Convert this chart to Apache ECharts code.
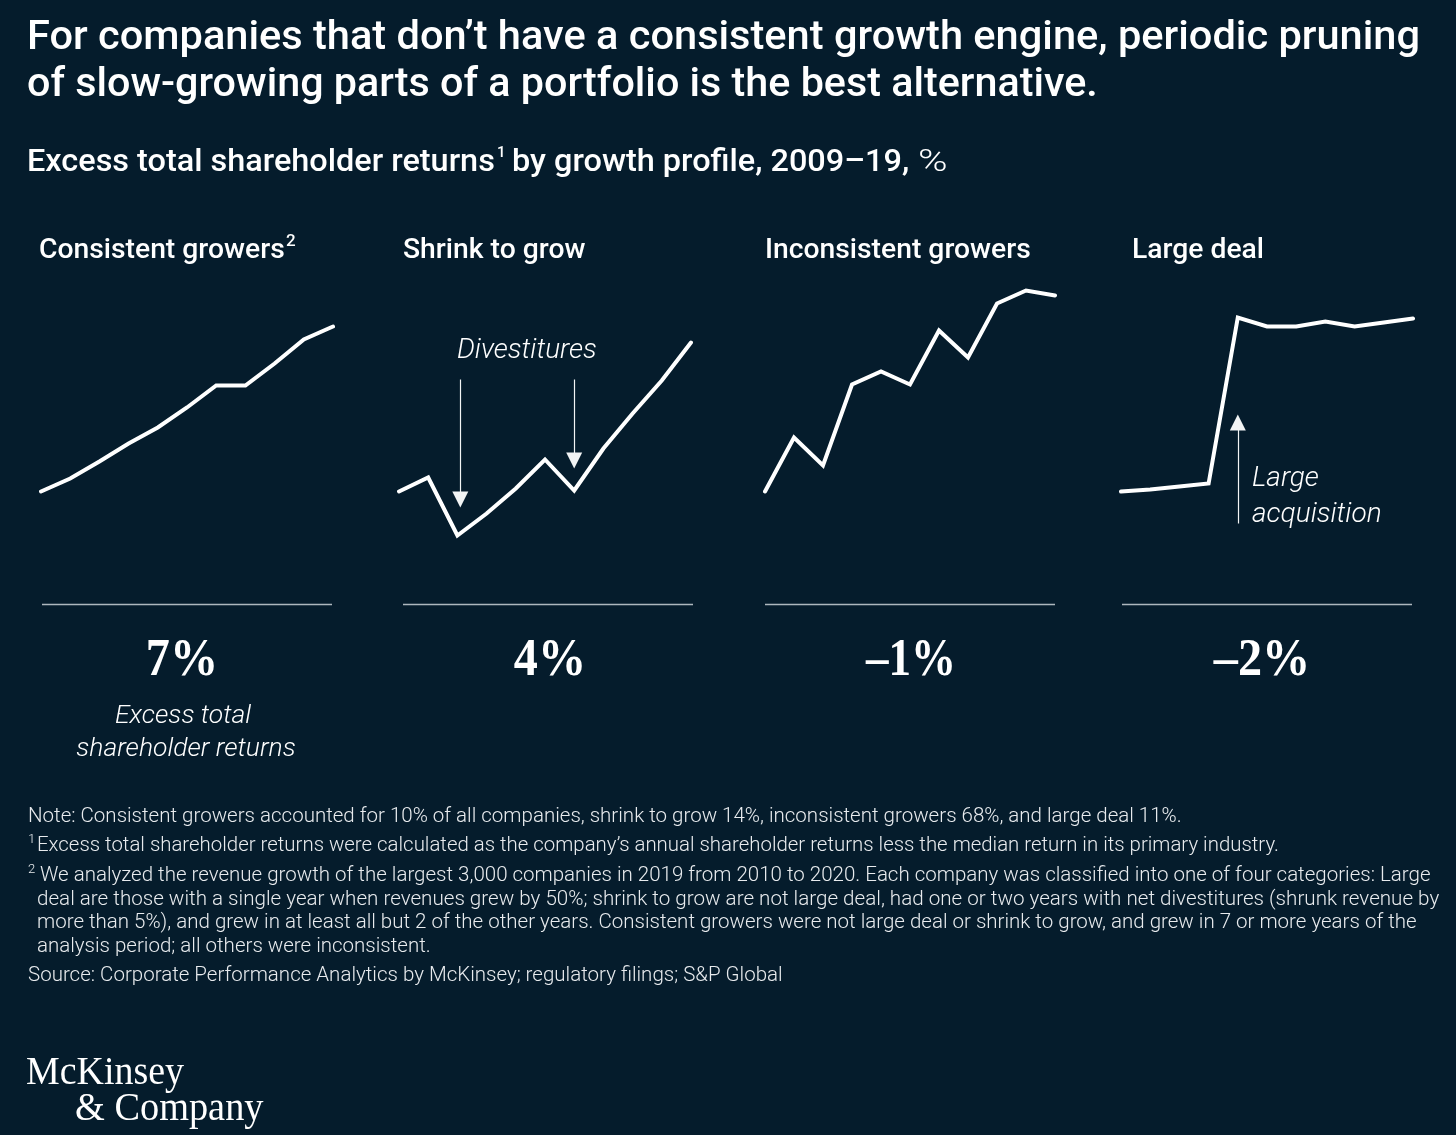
<!DOCTYPE html>
<html>
<head>
<meta charset="utf-8">
<title>Excess total shareholder returns</title>
<script src="https://cdn.jsdelivr.net/npm/echarts@6/dist/echarts.min.js"></script>
<style>
  html, body { margin: 0; padding: 0; background: #051c2c; }
  #chart { width: 1456px; height: 1135px; }
</style>
</head>
<body>
<div id="chart"></div>
<script>
// years on the x axis
var years = [2009, 2010, 2011, 2012, 2013, 2014, 2015, 2016, 2017, 2018, 2019];

// indexed values
var consistent = [100.5, 107, 115.5, 124.5, 132.5, 142.5, 153.5, 153.5, 164.5, 176.5, 183];
var shrink = [100.5, 107.5, 78.5, 89.5, 102, 116.5, 101, 122, 139.5, 156, 175];
var inconsistent = [100.5, 127.5, 113.5, 154, 160.5, 154, 181, 167.5, 194.5, 201, 198.5];
var largeDeal = [100.5, 101.5, 103, 104.5, 187.5, 183, 183, 185.5, 183, 185, 187];

var panelValues = [consistent, shrink, inconsistent, largeDeal];
var panelNames = ['Consistent growers', 'Shrink to grow', 'Inconsistent growers', 'Large deal'];
var panelResults = ['7%', '4%', '\u20131%', '\u20132%'];

var titleLines = [
  'For companies that don\u2019t have a consistent growth engine, periodic pruning',
  'of slow-growing parts of a portfolio is the best alternative.'
];
var noteTexts = [
  'Note: Consistent growers accounted for 10% of all companies, shrink to grow 14%, inconsistent growers 68%, and large deal 11%.',
  'Excess total shareholder returns were calculated as the company\u2019s annual shareholder returns less the median return in its primary industry.',
  'We analyzed the revenue growth of the largest 3,000 companies in 2019 from 2010 to 2020. Each company was classified into one of four categories: Large',
  'deal are those with a single year when revenues grew by 50%; shrink to grow are not large deal, had one or two years with net divestitures (shrunk revenue by',
  'more than 5%), and grew in at least all but 2 of the other years. Consistent growers were not large deal or shrink to grow, and grew in 7 or more years of the',
  'analysis period; all others were inconsistent.',
  'Source: Corporate Performance Analytics by McKinsey; regulatory filings; S&P Global'
];

// layout of the notes
var noteX = [28, 37, 40, 37, 37, 37, 28];
var noteY = [815, 844, 874, 898, 921, 945, 974];
var noteScale = [1, 0.995, 1, 1.005, 1, 1, 1];

// layout of the four small panels
var gridLeft = [41, 399, 765, 1121];
var gridWidth = [292, 292, 290, 292];
var ruleLeft = [42, 403, 765, 1122];
var ruleWidth = 290;
var nameLeft = [39, 403, 765, 1132];
var resultCenter = [182, 550, 911, 1262];

var sansFont = 'Roboto';
var white = '#ffffff';
var soft = '#e8ebee';

function txt(x, y, text, size, extra) {
  var style = {
    text: text,
    x: 0,
    y: 0,
    fill: white,
    font: (extra && extra.fontCss ? extra.fontCss + ' ' : '') + size + 'px ' + ((extra && extra.family) || sansFont),
    textAlign: (extra && extra.align) || 'left',
    textVerticalAlign: 'middle'
  };
  if (extra && extra.fill) style.fill = extra.fill;
  return {
    type: 'text',
    x: x,
    y: y + ((extra && extra.noShift) ? 0 : size * 0.09),
    scaleX: (extra && extra.sx) || 1,
    silent: true,
    style: style
  };
}

var graphics = [];
graphics.push(txt(27, 35, titleLines[0], 40, { fontCss: '500', sx: 1.039 }));
graphics.push(txt(27, 82, titleLines[1], 40, { fontCss: '500', sx: 1.032 }));
graphics.push(txt(27, 160, 'Excess total shareholder returns', 31.5, { fontCss: '500', sx: 1.03 }));
graphics.push(txt(497, 152, '1', 15, { fontCss: '500' }));
graphics.push(txt(512, 160, 'by growth profile, 2009\u201319,', 31.5, { fontCss: '500', sx: 1.03 }));
graphics.push(txt(918, 160, '%', 32, { fontCss: '300', sx: 1.25 }));

panelNames.forEach(function (name, i) {
  graphics.push(txt(nameLeft[i], 248, name, 28, { fontCss: '500', sx: 1.01 }));
  graphics.push(txt(resultCenter[i], 656.5, panelResults[i], 53, {
    fontCss: 'bold', family: '"Liberation Serif"', align: 'center', sx: i === 2 ? 0.85 : 0.91
  }));
  graphics.push({
    type: 'line',
    silent: true,
    shape: { x1: ruleLeft[i], y1: 604.5, x2: ruleLeft[i] + ruleWidth, y2: 604.5 },
    style: { stroke: '#aeb7be', lineWidth: 1.5 }
  });
});
graphics.push(txt(286, 240, '2', 17, { fontCss: '500' }));

graphics.push(txt(457, 348, 'Divestitures', 28, { fontCss: 'italic 300' }));
graphics.push(txt(1252, 476, 'Large', 28, { fontCss: 'italic 300' }));
graphics.push(txt(1252, 512, 'acquisition', 28, { fontCss: 'italic 300' }));
graphics.push(txt(183, 714, 'Excess total', 26.5, { fontCss: 'italic 300', align: 'center' }));
graphics.push(txt(186, 747, 'shareholder returns', 26.5, { fontCss: 'italic 300', align: 'center' }));

noteTexts.forEach(function (line, i) {
  graphics.push(txt(noteX[i], noteY[i], line, 20.5, { fontCss: '300', fill: soft, sx: noteScale[i] }));
});
graphics.push(txt(28, 839, '1', 13, { fontCss: '300', fill: soft }));
graphics.push(txt(28, 869, '2', 13, { fontCss: '300', fill: soft }));

graphics.push(txt(26, 1073, 'McKinsey', 41, { family: '"Liberation Serif"', sx: 0.925, noShift: true }));
graphics.push(txt(75, 1109, '& Company', 41, { family: '"Liberation Serif"', sx: 0.935, noShift: true }));

// arrows sit on the same scales as the lines
var arrowStyle = { color: '#f2f4f5', width: 1.2, type: 'solid' };
var panelArrows = [
  [],
  [[2011.1, 156.5, 96.5], [2015, 156.5, 116]],
  [],
  [[2013, 84.5, 135]]
];

var grids = [], xAxes = [], yAxes = [], series = [];
panelValues.forEach(function (values, i) {
  grids.push({ left: gridLeft[i], width: gridWidth[i], top: 284.5, height: 320 });
  xAxes.push({ type: 'value', gridIndex: i, min: 2009, max: 2019, show: false });
  yAxes.push({ type: 'value', gridIndex: i, min: 44, max: 204, show: false });
  series.push({
    type: 'line',
    name: panelNames[i],
    xAxisIndex: i,
    yAxisIndex: i,
    symbol: 'none',
    silent: true,
    animation: false,
    data: years.map(function (y, k) { return [y, values[k]]; }),
    lineStyle: { color: white, width: 4, cap: 'round', join: 'miter' },
    markLine: {
      silent: true,
      animation: false,
      symbol: ['none', 'triangle'],
      symbolSize: 16,
      label: { show: false },
      lineStyle: arrowStyle,
      data: panelArrows[i].map(function (a) {
        return [{ coord: [a[0], a[1]] }, { coord: [a[0], a[2]] }];
      })
    }
  });
});

var chart = echarts.init(document.getElementById('chart'), null, { renderer: 'canvas' });
chart.setOption({
  backgroundColor: '#051c2c',
  animation: false,
  tooltip: { show: false },
  grid: grids,
  xAxis: xAxes,
  yAxis: yAxes,
  series: series,
  graphic: { elements: graphics }
});
</script>
</body>
</html>
